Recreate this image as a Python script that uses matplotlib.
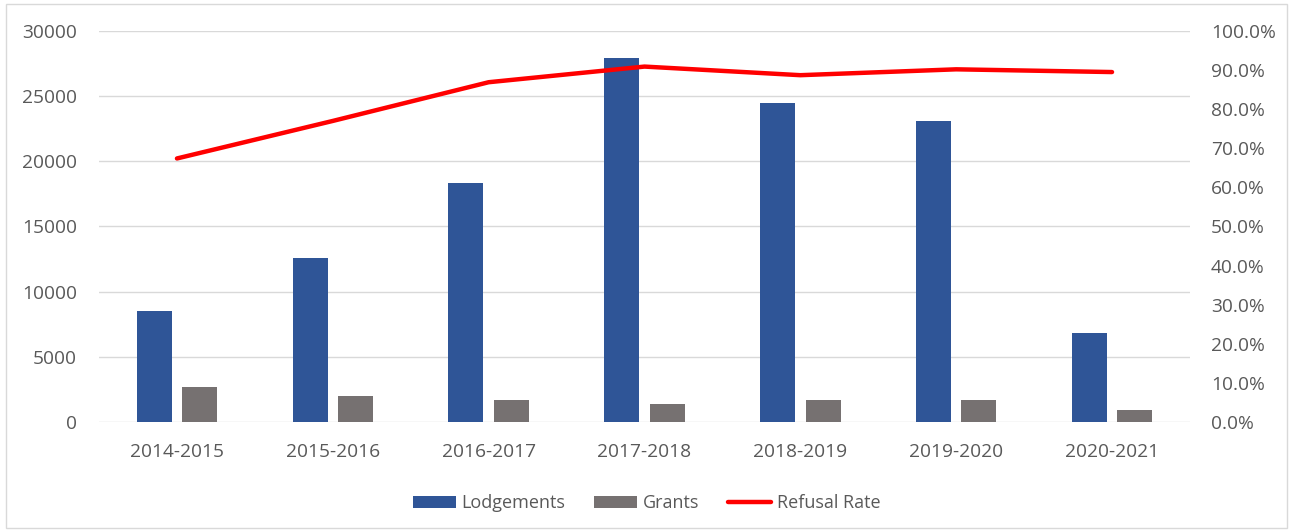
import matplotlib
matplotlib.use("Agg")
import matplotlib.pyplot as plt
import numpy as np
from matplotlib.patches import Rectangle

categories = ["2014-2015", "2015-2016", "2016-2017", "2017-2018", "2018-2019", "2019-2020", "2020-2021"]
lodgements = [8500, 12600, 18300, 27900, 24500, 23100, 6800]
grants = [2700, 2000, 1700, 1400, 1700, 1700, 900]
refusal_rate = [67.4, 77.0, 86.9, 90.9, 88.7, 90.2, 89.5]

plt.rcParams['font.family'] = ['Open Sans', 'DejaVu Sans']
txt = '#595959'
fs = 13.8

fig = plt.figure(figsize=(12.93, 5.30), dpi=100)
fig.patches.append(Rectangle((0.005, 0.004), 0.99, 0.988, transform=fig.transFigure,
                             fill=False, edgecolor='#d9d9d9', lw=1))
ax = fig.add_axes([0.0766, 0.2038, 0.8437, 0.7377])
x = np.arange(len(categories))
bw = 0.225
b1 = ax.bar(x - 0.146, lodgements, bw, color='#2F5597', label='Lodgements', zorder=3)
b2 = ax.bar(x + 0.146, grants, bw, color='#767171', label='Grants', zorder=3)
ax.set_xlim(-0.5, len(categories) - 0.5)
ax.set_ylim(0, 30000)
ax.set_yticks(range(0, 30001, 5000))
ax.grid(axis='y', color='#d9d9d9', lw=1, zorder=0)
ax.set_axisbelow(True)
for s in ax.spines.values():
    s.set_visible(False)
ax.tick_params(axis='both', length=0, labelsize=fs, colors=txt)
ax.tick_params(axis='x', pad=15)
ax.tick_params(axis='y', pad=16)
ax.set_xticks(x)
ax.set_xticklabels(categories)

ax2 = ax.twinx()
ln, = ax2.plot(x, refusal_rate, color='#FF0000', lw=3.2, solid_capstyle='round',
               solid_joinstyle='round', label='Refusal Rate', zorder=4)
ax2.set_ylim(0, 100)
ax2.set_yticks(range(0, 101, 10))
ax2.set_yticklabels([f"{v:.1f}%" for v in range(0, 101, 10)])
for s in ax2.spines.values():
    s.set_visible(False)
ax2.tick_params(axis='y', length=0, labelsize=fs, colors=txt, pad=15)

leg = fig.legend(handles=[b1, b2, ln], labels=['Lodgements', 'Grants', 'Refusal Rate'],
                 loc='center', bbox_to_anchor=(0.5, 0.05), ncol=3, frameon=False,
                 fontsize=13, handlelength=2.4, handleheight=0.6, columnspacing=1.6,
                 handletextpad=0.3)
for t in leg.get_texts():
    t.set_color(txt)

fig.savefig('out.png', dpi=100)
